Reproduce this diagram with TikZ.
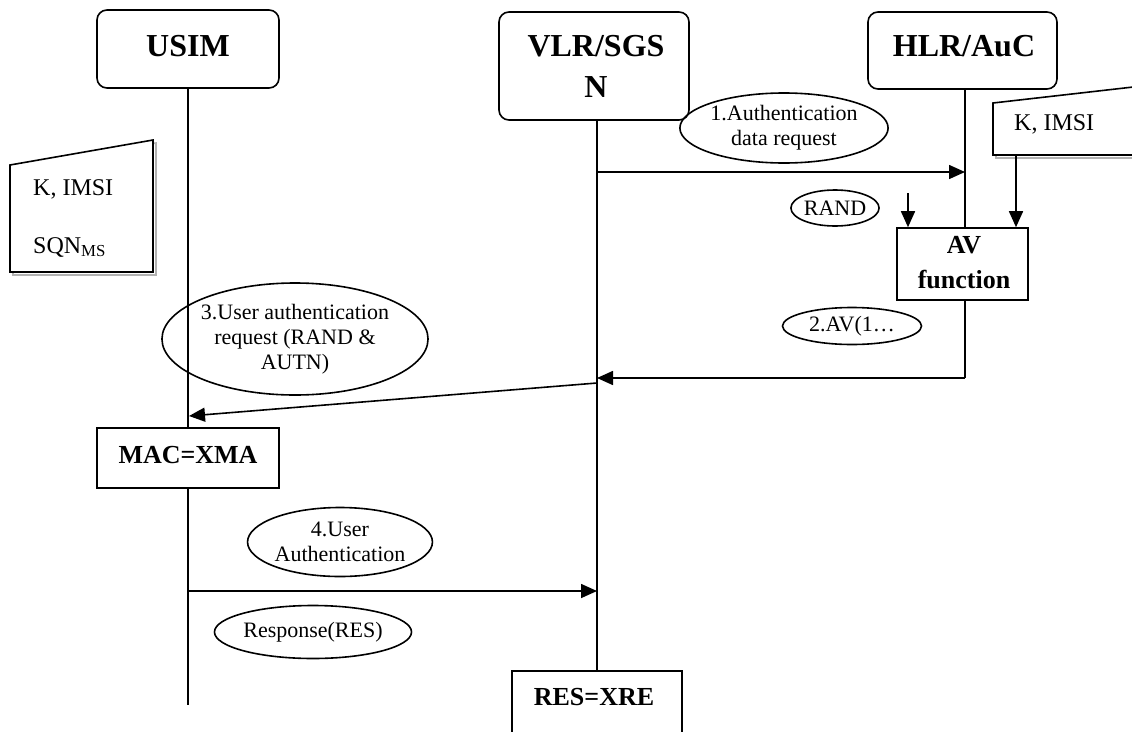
\documentclass[tikz,border=0pt]{standalone}
\usepackage{fontspec}
\setmainfont{Liberation Serif}
\usetikzlibrary{shapes.geometric,arrows.meta}
\begin{document}
\begin{tikzpicture}[x=1pt,y=-1pt,
  lw/.style={line width=1.6pt},
  entbox/.style={draw,lw,rounded corners=10pt,inner sep=0pt},
  hdr/.style={font=\fontsize{32}{43}\selectfont\bfseries,inner sep=0pt,anchor=base},
  fnbox/.style={draw,lw,inner sep=0pt},
  fntext/.style={font=\fontsize{26}{35}\selectfont\bfseries,inner sep=0pt,anchor=base,align=center},
  lbl/.style={draw,lw,ellipse,inner sep=0pt,font=\fontsize{22}{25}\selectfont,align=center},
  notetext/.style={font=\fontsize{24}{28}\selectfont,inner sep=0pt,anchor=base west},
  msg/.style={lw,-{Triangle[length=16pt,width=14pt]}},
  shadowline/.style={line width=1.6pt,draw=black!30}]
\useasboundingbox (0,0) rectangle (1132,731);
\clip (0,0) rectangle (1132,731);

% entity boxes
\node[entbox,minimum width=182pt,minimum height=78pt] (usim) at (188,49) {};
\node[hdr] (usimt) at (188,56) {USIM};
\node[entbox,minimum width=190pt,minimum height=108pt] (vlr) at (594,66) {};
\node[hdr] (vlrt1) at (596,56) {VLR/SGS};
\node[hdr] (vlrt2) at (596,97) {N};
\node[entbox,minimum width=189pt,minimum height=77pt] (hlr) at (962.5,50.5) {};
\node[hdr] (hlrt) at (964,56) {HLR/AuC};

% function boxes
\node[fnbox,minimum width=182pt,minimum height=60pt] (mac) at (188,458) {};
\node[fntext] (mact) at (188,463) {MAC=XMA};
\node[fnbox,minimum width=131pt,minimum height=72pt] (av) at (962.5,264) {};
\node[fntext] (avt1) at (964,253) {AV};
\node[fntext] (avt2) at (964,288) {function};
\node[fnbox,minimum width=170pt,minimum height=90pt] (res) at (597,716) {};
\node[fntext] (rest) at (594,705) {RES=XRE};

% lifeline coordinates
\coordinate (uEnd) at (188,705);
\coordinate (vTop) at (597,120);
\coordinate (hTop) at (965,89);
\coordinate (hAvTop) at (965,228);
\coordinate (hAvBot) at (965,300);
\coordinate (hCorner) at (965,378);

\draw[lw] (188,88) -- (mac.north);
\draw[lw] (mac.south) -- (uEnd);
\draw[lw] (vTop) -- (597,671);
\draw[lw] (hTop) -- (hAvTop);
\draw[lw] (hAvBot) -- (hCorner);

% notes
\draw[shadowline] (13,168) -- (156,143) -- (156,275) -- (13,275) -- cycle;
\draw[lw,fill=white] (10,165) -- (153,140) -- (153,272) -- (10,272) -- cycle;
\node[notetext] (lk) at (33,195) {K, IMSI};
\node[notetext] (lsqn) at (33,253) {SQN\textsubscript{MS}};

\draw[shadowline] (996,106) -- (1145,89) -- (1145,158) -- (996,158) -- cycle;
\draw[lw,fill=white] (993,103) -- (1142,86) -- (1142,155) -- (993,155) -- cycle;
\node[notetext] (rk) at (1014,130) {K, IMSI};
\coordinate (rnBot) at (1016,155);

% labels
\node[lbl,minimum width=208pt,minimum height=70pt] (e1) at (784,128) {1.Authentication\\data request};
\node[lbl,minimum width=76pt,minimum height=36pt] (erand) at (835,208) {RAND};
\node[lbl,minimum width=139pt,minimum height=37pt] (e2) at (852,326) {2.AV(1…};
\node[lbl,minimum width=230pt,minimum height=112pt] (e3) at (295,339) {3.User authentication\\request (RAND \&\\AUTN)};
\node[lbl,minimum width=184pt,minimum height=69pt] (e4) at (340,542) {4.User\\Authentication};
\node[lbl,minimum width=162pt,minimum height=53pt] (eres) at (313,632) {Response(RES)};

% messages
\coordinate (m1s) at (597,172);
\coordinate (m1e) at (965,172);
\draw[msg] (m1s) -- (m1e);
\coordinate (randS) at (908,193);
\draw[msg] (randS) -- (randS |- av.north);
\draw[msg] (rnBot) -- (rnBot |- av.north);
\coordinate (m2e) at (597,378);
\draw[msg] (hCorner) -- (m2e);
\coordinate (m3s) at (597,383);
\coordinate (m3e) at (189,416);
\draw[msg] (m3s) -- (m3e);
\coordinate (m4s) at (188,591);
\coordinate (m4e) at (597,591);
\draw[msg] (m4s) -- (m4e);
\end{tikzpicture}
\end{document}
